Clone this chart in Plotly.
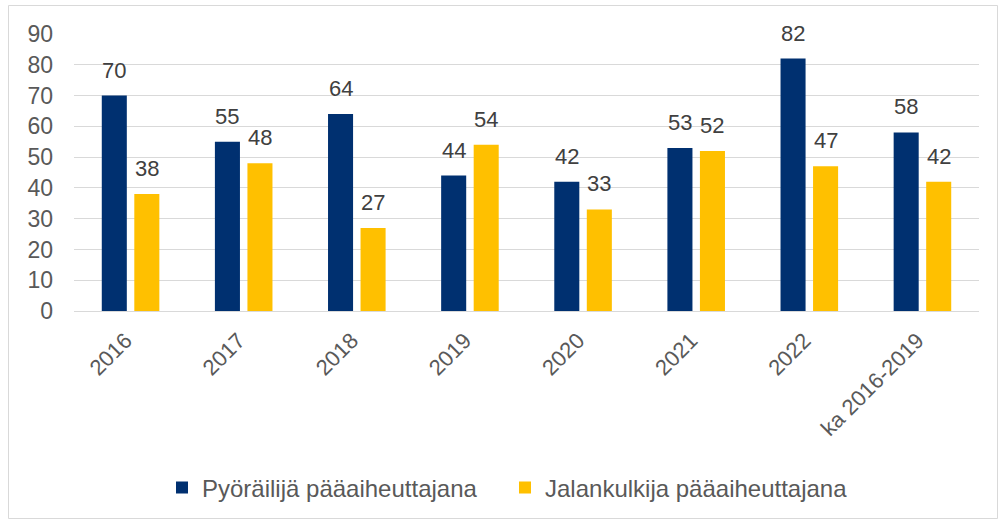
import plotly.graph_objects as go

categories = ["2016", "2017", "2018", "2019", "2020", "2021", "2022", "ka 2016-2019"]
pyorailija = [70, 55, 64, 44, 42, 53, 82, 58]
jalankulkija = [38, 48, 27, 54, 33, 52, 47, 42]
series_names = ["Pyöräilijä pääaiheuttajana", "Jalankulkija pääaiheuttajana"]
y_ticks = [0, 10, 20, 30, 40, 50, 60, 70, 80, 90]

NAVY = "#003070"
GOLD = "#FFC000"
FONT = "Liberation Sans, Arial, sans-serif"

W, H = 999, 519
L, R, T, B = 74, 20, 34, 208
pw, ph = W - L - R, H - T - B
BARGAP, GROUPGAP = 0.425, 0.23
cat_px = pw / len(categories)
slot_px = cat_px * (1 - BARGAP) / 2

fig = go.Figure()
series = [(series_names[0], pyorailija, NAVY), (series_names[1], jalankulkija, GOLD)]
for name, vals, col in series:
    fig.add_trace(go.Bar(
        x=categories, y=vals, name=name, marker=dict(color=col, line=dict(width=0)),
        hoverinfo="x+y+name",
    ))

annotations = []
for i, (name, vals, col) in enumerate(series):
    shift = (i - 0.5) * slot_px
    for ci, v in enumerate(vals):
        annotations.append(dict(
            x=ci, y=v, xref="x", yref="y", text=str(v), showarrow=False,
            xanchor="center", yanchor="bottom", xshift=shift, yshift=11,
            font=dict(family=FONT, size=22, color="#404040"),
        ))


def px_to_paper_x(px):
    return (px - L) / pw


def px_to_paper_y(py):
    return (H - B - py) / ph


fig.update_layout(
    width=W, height=H,
    margin=dict(l=L, r=R, t=T, b=B, autoexpand=False),
    paper_bgcolor="white", plot_bgcolor="white",
    barmode="group", bargap=BARGAP, bargroupgap=GROUPGAP,
    font=dict(family=FONT, size=22, color="#595959"),
    showlegend=True,
    legend=dict(orientation="h", x=px_to_paper_x(162), xanchor="left",
                y=px_to_paper_y(488), yanchor="middle",
                font=dict(family=FONT, size=24, color="#595959"),
                entrywidth=298, entrywidthmode="pixels",
                traceorder="normal"),
    annotations=annotations,
)
fig.update_yaxes(range=[0, 90], tickvals=y_ticks, showgrid=True, gridcolor="#D9D9D9", gridwidth=1,
                 zeroline=False, showline=False, ticks="", ticklabelstandoff=20,
                 tickfont=dict(family=FONT, size=23, color="#595959"), automargin=False)
fig.update_xaxes(type="category", range=[-0.5, len(categories) - 0.5], tickangle=-45,
                 showline=True, linecolor="#D9D9D9", linewidth=1,
                 ticks="", ticklabelstandoff=7, ticklabelshift=-5,
                 tickfont=dict(family=FONT, size=22, color="#595959"), automargin=False)

fig.add_shape(type="rect", xref="paper", yref="paper",
              x0=px_to_paper_x(8.5), x1=px_to_paper_x(997.5),
              y0=px_to_paper_y(518.5), y1=px_to_paper_y(5.5),
              line=dict(color="#D9D9D9", width=1), fillcolor="rgba(0,0,0,0)", layer="below")

fig.write_html("out.html", config={"displayModeBar": False},
               post_script="document.body.style.margin='0';")
